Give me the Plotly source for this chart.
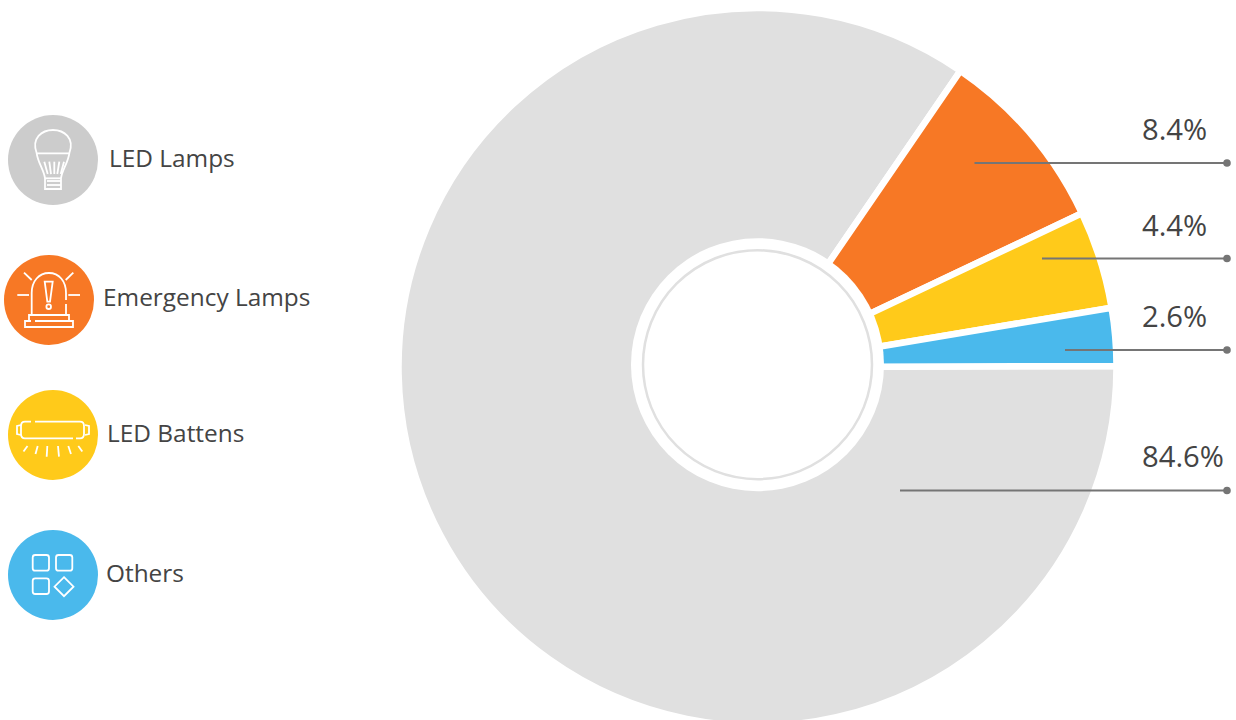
import re
import plotly.graph_objects as go

# Market share by product category
categories = ["LED Lamps", "Emergency Lamps", "LED Battens", "Others"]
shares = [84.6, 8.4, 4.4, 2.6]
colors = ["#e0e0e0", "#f77825", "#ffca1a", "#4ab9ec"]

WIDTH, HEIGHT = 1236, 730
CX, CY, R = 757.5, 367, 359
FONT = "Open Sans"
TEXT = "#444444"
LEADER = "#757575"


def fx(x):
    return x / WIDTH


def fy(y):
    return 1 - y / HEIGHT


def path(d):
    """Convert an absolute M/L/C/Q/Z path from page pixels to paper fractions."""
    is_x = True

    def swap(m):
        nonlocal is_x
        v = float(m.group())
        r = fx(v) if is_x else fy(v)
        is_x = not is_x
        return f"{r:.5f}"

    return re.sub(r"-?\d+\.?\d*", swap, d)


def stroke(d, width=1.8, color="white", fill=None):
    return dict(type="path", xref="paper", yref="paper", path=path(d), layer="above",
                line=dict(color=color, width=width), fillcolor=fill or "rgba(0,0,0,0)")


def circle(x, y, r, fill="rgba(0,0,0,0)", color="rgba(0,0,0,0)", width=0):
    return dict(type="circle", xref="paper", yref="paper", layer="above",
                x0=fx(x - r), x1=fx(x + r), y0=fy(y + r), y1=fy(y - r),
                fillcolor=fill, line=dict(color=color, width=width))


def round_rect(x0, y0, x1, y1, r=2.5):
    return (f"M {x0+r} {y0} L {x1-r} {y0} Q {x1} {y0} {x1} {y0+r} L {x1} {y1-r} "
            f"Q {x1} {y1} {x1-r} {y1} L {x0+r} {y1} Q {x0} {y1} {x0} {y1-r} "
            f"L {x0} {y0+r} Q {x0} {y0} {x0+r} {y0} Z")


# White centre disc and the thin ring inside it
shapes = [
    circle(757.5, 364.7, 126.5, fill="white"),
    circle(757.5, 364.7, 114.5, color="#e0e0e0", width=2.5),
]

# Leader lines running from each slice out to the value column
leader_start = [900, 974.5, 1042, 1065]
leader_y = [490.5, 163, 258.5, 350]
for x0, y in zip(leader_start, leader_y):
    shapes.append(dict(type="line", xref="paper", yref="paper", layer="above",
                       x0=fx(x0), x1=fx(1227), y0=fy(y), y1=fy(y),
                       line=dict(color=LEADER, width=2)))
    shapes.append(circle(1227, y, 3.8, fill=LEADER))

# Legend badges
badge_x = [53, 49, 53, 53]
badge_y = [160, 300, 435, 575]
badge_fill = ["#cccccc", "#f77825", "#ffca1a", "#4ab9ec"]
for x, y, c in zip(badge_x, badge_y, badge_fill):
    shapes.append(circle(x, y, 45, fill=c))

# Bulb icon
shapes += [
    stroke("M 36.7 153.3 C 31 138 42 130 53 130 C 64 130 75 138 69.3 153.3 Z"),
    stroke("M 36.7 153.3 C 38 163 44 170 45 178.3 L 45 189 L 61 189 L 61 178.3 C 62 170 68 163 69.3 153.3"),
    stroke("M 45 178.3 L 61 178.3"),
    stroke("M 44.3 161.7 L 47.7 174"), stroke("M 49.3 161.7 L 51 174"),
    stroke("M 54.3 161.7 L 54.3 174"), stroke("M 59.3 161.7 L 57.3 174"),
    stroke("M 64 161.7 L 60.7 174"),
    stroke("M 47 181 L 61 181"), stroke("M 47 185 L 61 185"),
]

# Beacon icon
shapes += [
    stroke("M 31.7 315 L 31.7 293 C 31.7 281 39 273 49 273 C 59 273 66 281 66 293 L 66 300"),
    stroke("M 66 304 L 66 315"),
    stroke("M 44.7 281.7 L 52.7 281.7 L 50 301.7 L 47.3 301.7 Z"),
    circle(48.7, 306.7, 2.3, color="white", width=1.8),
    stroke("M 29 320 L 29 315 L 69 315 L 69 320"),
    stroke("M 31 321 L 25 321 L 25 327 L 73 327 L 73 321 L 35 321"),
    stroke("M 24 272.7 L 31.7 280"), stroke("M 73.3 272.7 L 65.7 280"),
    stroke("M 17.3 295 L 29 295"), stroke("M 68.3 295 L 80 295"),
]

# Batten icon
shapes += [
    stroke("M 31 421.7 L 25 421.7 Q 21 421.7 21 426 L 21 434 Q 21 438.3 25 438.3 L 73 438.3"),
    stroke("M 35 421.7 L 80 421.7 Q 84 421.7 84 426 L 84 434 Q 84 438.3 80 438.3 L 76 438.3"),
    stroke("M 21 425 L 17 426 L 17 434 L 21 435"),
    stroke("M 85 425 L 89 426 L 89 434 L 85 435"),
    stroke("M 23.5 451.5 L 27.5 446"), stroke("M 35.5 454 L 37.7 446"),
    stroke("M 46.7 456.7 L 47.3 446"), stroke("M 59 456.7 L 58 446"),
    stroke("M 71 454 L 68.3 446"), stroke("M 82.3 451.5 L 78.3 446"),
]

# Grid icon
shapes += [
    stroke(round_rect(32.7, 555, 49, 570.7)),
    stroke(round_rect(56, 555, 72.3, 570.7)),
    stroke(round_rect(32.7, 578.3, 49, 594)),
    stroke("M 64 577.2 L 73.5 586.7 L 64 596.2 L 54.5 586.7 Z"),
]

annotations = []


def label(text, x, y, size):
    annotations.append(dict(text=text, x=fx(x), y=fy(y), xref="paper", yref="paper",
                            xanchor="left", yanchor="middle", showarrow=False,
                            font=dict(family=FONT, size=size, color=TEXT)))


value_y = [456, 129, 225, 316]
for v, y in zip(shares, value_y):
    label(f"{v}%", 1139.5, y, 29.2)

legend_x = [107, 101, 105, 104]
legend_y = [157, 297, 432, 572]
for name, x, y in zip(categories, legend_x, legend_y):
    label(name, x, y, 24.4)

fig = go.Figure(go.Pie(
    labels=categories,
    values=shares,
    sort=False,
    direction="clockwise",
    rotation=89.85,
    hole=0.3,
    textinfo="none",
    marker=dict(colors=colors, line=dict(color="white", width=6.5)),
    domain=dict(x=[(CX - R) / WIDTH, (CX + R) / WIDTH],
                y=[1 - (CY + R) / HEIGHT, 1 - (CY - R) / HEIGHT]),
    showlegend=False,
))
fig.update_layout(
    width=WIDTH, height=HEIGHT,
    margin=dict(l=0, r=0, t=0, b=0),
    paper_bgcolor="white", plot_bgcolor="white",
    shapes=shapes, annotations=annotations,
)
fig.write_html("out.html", post_script="document.documentElement.style.overflow='hidden';")
